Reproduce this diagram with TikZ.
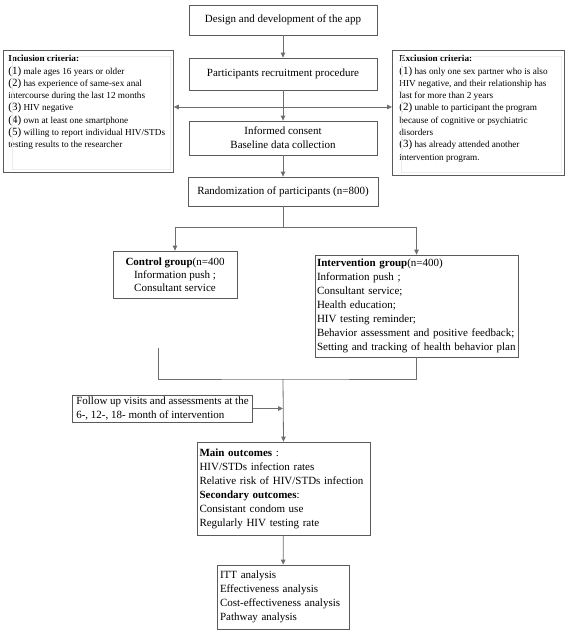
\documentclass[tikz,border=0pt]{standalone}
\usepackage{fontspec}
\setmainfont{Liberation Serif}
\usetikzlibrary{arrows.meta}
\definecolor{linec}{HTML}{6E6E6E}
\definecolor{framec}{HTML}{5A5A5A}
\definecolor{faintc}{HTML}{ECECEC}
\newcommand\mfont{\fontsize{11}{14}\selectfont}
\newcommand\cfont{\fontsize{9.2}{12.3}\selectfont}
\newcommand\nb[1]{{\fontsize{11}{12.3}\selectfont(#1)}}
\begin{document}
\begin{tikzpicture}[x=1pt,y=-1pt,
  flow/.style={draw=framec, line width=0.75pt, font=\mfont, align=center, inner sep=0pt, text=black},
  lbox/.style={flow, align=left},
  crit/.style={draw=framec, line width=0.75pt, font=\cfont, inner ysep=5pt, anchor=north west},
  conn/.style={draw=linec, line width=0.8pt},
  arr/.style={conn, -{Triangle[length=5pt,width=4.5pt]}},
  biarr/.style={conn, {Triangle[length=5pt,width=4.5pt]}-{Triangle[length=5pt,width=4.5pt]}},
  faint/.style={draw=faintc, line width=0.6pt}]
\useasboundingbox (0,0) rectangle (567,636);

% main column
\node[flow, minimum width=188, minimum height=30] (design) at (283,20) {Design and development of the app};
\node[flow, minimum width=188, minimum height=32] (recruit) at (283,74) {Participants recruitment procedure};
\node[flow, minimum width=188, minimum height=34] (consent) at (283,138) {Informed consent\\Baseline data collection};
\node[flow, minimum width=190, minimum height=29] (random) at (283,191.5) {Randomization of participants (n=800)};

% criteria
\node[crit, inner xsep=5pt] (incl) at (3,50) {\parbox[t][112pt][t]{160pt}{\raggedright
\textbf{Inclusion criteria:}\\
\nb{1} male ages 16 years or older\\
\nb{2} has experience of same-sex anal\\
intercourse during the last 12 months\\
\nb{3} HIV negative\\
\nb{4} own at least one smartphone\\
\nb{5} willing to report individual HIV/STDs\\
testing results to the researcher}};
\node[crit, inner xsep=7pt] (excl) at (392,50) {\parbox[t][115pt][t]{158pt}{\raggedright
\textbf{Exclusion criteria:}\\
\nb{1} has only one sex partner who is also\\
HIV negative, and their relationship has\\
last for more than 2 years\\
\nb{2} unable to participant the program\\
because of cognitive or psychiatric\\
disorders\\
\nb{3} has already attended another\\
intervention program.}};
\draw[faint] ([shift={(9,6)}]incl.north west) rectangle ([shift={(-3,-3)}]incl.south east);
\draw[faint] ([shift={(9,6)}]excl.north west) rectangle ([shift={(-3,-3)}]excl.south east);

% groups
\node[flow, minimum width=124, minimum height=47, font=\fontsize{11}{13}\selectfont] (control) at (175,274.5) {\textbf{Control group}(n=400\\Information push ;\\Consultant service};
\node[lbox, text width=199pt, inner xsep=2pt, minimum height=102] (interv) at (416.5,306) {\textbf{Intervention group}(n=400)\\
Information push ;\\
Consultant service;\\
Health education;\\
HIV testing reminder;\\
Behavior assessment and positive feedback;\\
Setting and tracking of health behavior plan};

% follow-up and outcomes
\node[lbox, inner xsep=4pt, minimum height=27, anchor=east, font=\fontsize{11}{13.3}\selectfont] (follow) at (253,408.5) {Follow up visits and assessments at the\\6-, 12-, 18- month of intervention};
\node[lbox, text width=168pt, inner xsep=2.5pt, minimum height=93] (outc) at (283.5,488.5) {\textbf{Main outcomes} :\\
HIV/STDs infection rates\\
Relative~risk~of~HIV/STDs~infection\\
\textbf{Secondary outcomes}:\\
Consistant condom use\\
Regularly HIV testing rate};
\node[lbox, text width=126pt, inner xsep=3pt, minimum height=64] (itt) at (283,597) {ITT analysis\\
Effectiveness analysis\\
Cost-effectiveness analysis\\
Pathway analysis};

% connectors
\coordinate (cross) at (283,107);
\coordinate (split) at (283,227);
\coordinate (ctl) at (158,348);
\coordinate (merge) at (283,379);

\draw[arr] (design) -- (recruit);
\draw[arr] (recruit) -- (consent);
\draw[biarr] (incl.east |- cross) -- (excl.west |- cross);
\draw[arr] (consent) -- (random);
\draw[conn] (random.south) -- (split);
\draw[arr] (split) -| (control.north);
\draw[arr] (split) -| (interv.north);
\draw[conn] (ctl) |- (merge) -| (interv.south);
\draw[arr] (merge) -- (outc.north);
\draw[arr] (follow.east) -- (follow.east -| merge);
\draw[arr] (outc) -- (itt);
\end{tikzpicture}
\end{document}
